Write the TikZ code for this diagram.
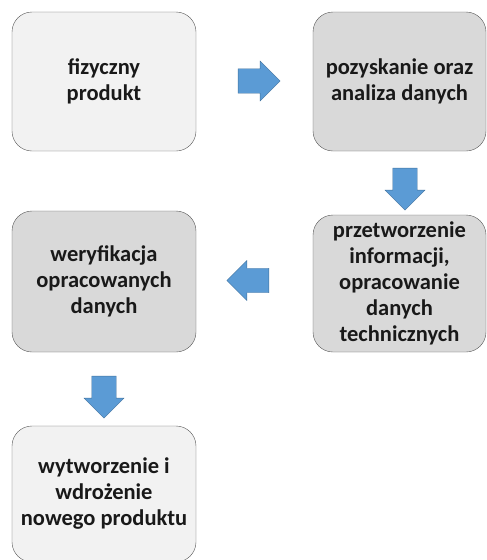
\documentclass[tikz,border=0pt]{standalone}
\usepackage{fontspec}
\setmainfont{Carlito}
\usepackage{xcolor}
\usetikzlibrary{positioning,shapes.arrows}
\definecolor{boxlight}{RGB}{242,242,242}
\definecolor{boxdark}{RGB}{217,217,217}
\definecolor{boxline}{RGB}{89,89,89}
\definecolor{arrowfill}{RGB}{91,155,213}
\definecolor{arrowline}{RGB}{65,113,156}
\tikzset{
  lightbox/.style = {rectangle, rounded corners=20pt, draw=boxline, thin,
                     fill=boxlight, align=center, inner sep=2pt,
                     font=\fontsize{22.5}{26}\selectfont\bfseries, text=black!90},
  darkbox/.style  = {lightbox, fill=boxdark},
  bigarrow/.style = {single arrow, draw=arrowline, thin, fill=arrowfill,
                     minimum height=42pt, minimum width=40pt, inner sep=11pt}
}

\begin{document}
\begin{tikzpicture}[x=1pt, y=-1pt]
  \useasboundingbox (0,0) rectangle (487,560);
  % Row 1
  \node[lightbox, minimum width=184pt, minimum height=139pt] (fiz) at (104,81.5)
       {fizyczny\\produkt};
  \node[darkbox,  minimum width=173pt, minimum height=139pt] (poz) at (399.5,81.5)
       {pozyskanie oraz\\analiza danych};
  % Row 2
  \node[darkbox,  minimum width=173pt, minimum height=137pt] (prz) at (399.5,283.5)
       {przetworzenie\\informacji,\\opracowanie\\danych\\technicznych};
  \node[darkbox,  minimum width=184pt, minimum height=141pt] (wer) at (104,281.5)
       {weryfikacja\\opracowanych\\danych};
  % Row 3
  \node[lightbox, minimum width=184pt, minimum height=136pt] (wdr) at (104,494)
       {wytworzenie i\\wdrożenie\\nowego produktu};
  % Arrows
  \node[bigarrow]                          (a1) at (253,81)    {};
  \node[bigarrow, shape border rotate=270] (a2) at (405,183)   {};
  \node[bigarrow, shape border rotate=180] (a3) at (254,280.5) {};
  \node[bigarrow, shape border rotate=270] (a4) at (104,391)   {};
\end{tikzpicture}
\end{document}
